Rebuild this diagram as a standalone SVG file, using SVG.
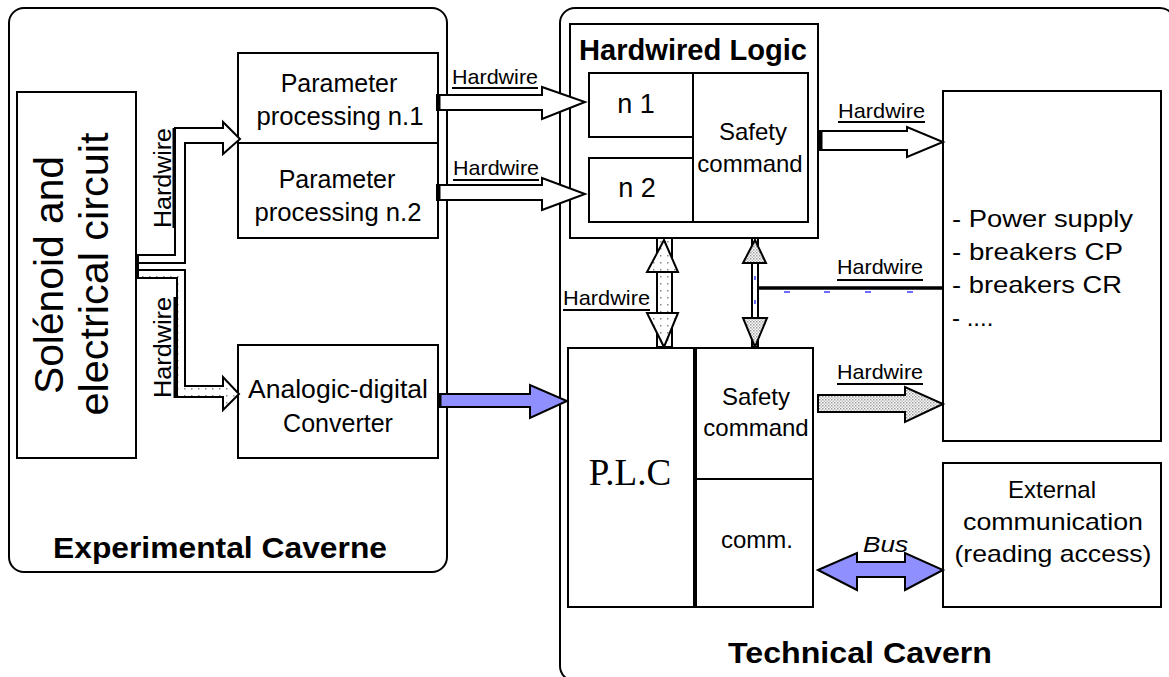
<svg xmlns="http://www.w3.org/2000/svg" width="1169" height="677" viewBox="0 0 1169 677">
<style>
.box{fill:#fff;stroke:#000;stroke-width:2}
.cont{fill:none;stroke:#000;stroke-width:2}
.t{font-family:"Liberation Sans",Arial,sans-serif;fill:#000;font-size:24px}
.c{text-anchor:middle}
.b{font-weight:bold;font-size:30px}
.hw{font-family:"Liberation Sans",Arial,sans-serif;font-size:21px;fill:#000}
.ul{stroke:#000;stroke-width:2}
.arr{fill:#fff;stroke:#000;stroke-width:2;stroke-linejoin:miter}
.blue{fill:#8f8fff;stroke:#000;stroke-width:2}
.dots{fill:url(#dots);stroke:#000;stroke-width:2}
.chk{fill:url(#chk);stroke:#000;stroke-width:2}
.tick{stroke:#6a6aff;stroke-width:2}
</style>
<defs>
<pattern id="dots" width="7" height="7" patternUnits="userSpaceOnUse">
<rect width="7" height="7" fill="#fff"/>
<rect x="2" y="3" width="1.5" height="1.5" fill="#888"/>
</pattern>
<pattern id="chk" width="3" height="3" patternUnits="userSpaceOnUse">
<rect width="3" height="3" fill="#fff"/>
<rect width="1.5" height="1.5" fill="#999"/>
<rect x="1.5" y="1.5" width="1.5" height="1.5" fill="#bbb"/>
</pattern>
</defs>
<rect width="1169" height="677" fill="#fff"/>

<g id="experimental-caverne">
<rect class="cont" x="9" y="8" width="438" height="564" rx="15"/>
<text class="t b" x="53" y="558" textLength="334" lengthAdjust="spacingAndGlyphs">Experimental Caverne</text>
</g>

<g id="technical-cavern">
<rect class="cont" x="560" y="8" width="615" height="673" rx="15"/>
<text class="t b" x="728" y="663" textLength="264" lengthAdjust="spacingAndGlyphs">Technical Cavern</text>
</g>

<g id="solenoid">
<rect class="box" x="17" y="92" width="119" height="366"/>
<text class="t c" style="font-size:40px" transform="translate(63,275) rotate(-90)" textLength="238" lengthAdjust="spacingAndGlyphs">Solénoid  and</text>
<text class="t c" style="font-size:40px" transform="translate(108,274) rotate(-90)" textLength="283" lengthAdjust="spacingAndGlyphs">electrical  circuit</text>
</g>

<g id="param-processing">
<rect class="box" x="238" y="53" width="200" height="185"/>
<line class="ul" x1="238" y1="143" x2="438" y2="143"/>
<text class="t c" style="font-size:25px" x="339" y="92">Parameter</text>
<text class="t c" style="font-size:25px" x="340" y="125" textLength="167" lengthAdjust="spacingAndGlyphs">processing n.1</text>
<text class="t c" style="font-size:25px" x="337" y="188">Parameter</text>
<text class="t c" style="font-size:25px" x="338" y="221" textLength="167" lengthAdjust="spacingAndGlyphs">processing n.2</text>
</g>

<g id="adc">
<rect class="box" x="238" y="345" width="200" height="113"/>
<text class="t c" style="font-size:25px" x="338" y="398" textLength="180" lengthAdjust="spacingAndGlyphs">Analogic-digital</text>
<text class="t c" style="font-size:25px" x="338" y="432">Converter</text>
</g>

<g id="hardwired-logic">
<rect class="box" x="570" y="24" width="248" height="214"/>
<text class="t b" style="font-size:29px" x="579" y="60" textLength="228" lengthAdjust="spacingAndGlyphs">Hardwired Logic</text>
<rect class="box" x="589" y="73" width="104" height="64"/>
<rect class="box" x="589" y="158" width="104" height="64"/>
<rect class="box" x="693" y="73" width="115" height="149"/>
<text class="t c" style="font-size:27px" x="636" y="113">n 1</text>
<text class="t c" style="font-size:27px" x="637" y="197">n 2</text>
<text class="t c" x="753" y="140">Safety</text>
<text class="t c" x="750" y="172">command</text>
</g>

<g id="plc">
<rect class="box" x="568" y="348" width="245" height="259"/>
<line x1="695" y1="348" x2="695" y2="607" stroke="#000" stroke-width="4"/>
<line class="ul" x1="695" y1="479" x2="813" y2="479"/>
<text x="630" y="485" style="font-family:'Liberation Serif','Times New Roman',serif;font-size:37px;text-anchor:middle">P.L.C</text>
<text class="t c" x="756" y="405">Safety</text>
<text class="t c" x="756" y="436">command</text>
<text class="t c" x="757" y="548">comm.</text>
</g>

<g id="power-box">
<rect class="box" x="943" y="91" width="218" height="350"/>
<text class="t" x="952" y="227" textLength="181" lengthAdjust="spacingAndGlyphs">- Power supply</text>
<text class="t" x="952" y="260" textLength="171" lengthAdjust="spacingAndGlyphs">- breakers CP</text>
<text class="t" x="952" y="293" textLength="170" lengthAdjust="spacingAndGlyphs">- breakers CR</text>
<text class="t" x="952" y="326">- ....</text>
</g>

<g id="external-comm">
<rect class="box" x="943" y="463" width="218" height="144"/>
<text class="t c" x="1052" y="498">External</text>
<text class="t c" x="1053" y="530" textLength="180" lengthAdjust="spacingAndGlyphs">communication</text>
<text class="t c" x="1053" y="562" textLength="197" lengthAdjust="spacingAndGlyphs">(reading access)</text>
</g>

<g id="connectors">
<!-- solenoid to param processing -->
<polygon class="arr" points="136,255 175,255 175,128 223,128 223,122 240,139 223,154 223,143 185,143 185,263 136,263"/>
<!-- solenoid to ADC -->
<polygon class="dots" points="136,270 185,270 185,386 223,386 223,377 239,394 223,410 223,397 177,397 177,278 136,278"/>
<line x1="137.5" y1="255" x2="137.5" y2="278" stroke="#000" stroke-width="3"/>
<text class="hw" transform="translate(171,228) rotate(-90)" style="font-size:23px" textLength="100" lengthAdjust="spacingAndGlyphs">Hardwire</text>
<line x1="174" y1="128" x2="174" y2="228" stroke="#000" stroke-width="3"/>
<text class="hw" transform="translate(171,398) rotate(-90)" style="font-size:23px" textLength="101" lengthAdjust="spacingAndGlyphs">Hardwire</text>
<line x1="175" y1="297" x2="175" y2="398" stroke="#000" stroke-width="3"/>

<!-- param 1 to n1 -->
<polygon class="arr" points="437,95 542,95 542,87 585,102 542,119 542,110 437,110"/>
<line x1="438.5" y1="95" x2="438.5" y2="110" stroke="#000" stroke-width="4"/>
<text class="hw" x="452" y="84" textLength="86" lengthAdjust="spacingAndGlyphs">Hardwire</text>
<line class="ul" x1="452" y1="88" x2="538" y2="88"/>
<!-- param 2 to n2 -->
<polygon class="arr" points="437,185 542,185 542,178 585,194 542,210 542,200 437,200"/>
<line x1="438.5" y1="185" x2="438.5" y2="200" stroke="#000" stroke-width="4"/>
<text class="hw" x="453" y="175" textLength="86" lengthAdjust="spacingAndGlyphs">Hardwire</text>
<line class="ul" x1="453" y1="180" x2="539" y2="180"/>

<!-- hardwired safety to power box -->
<polygon class="arr" points="819,131 907,131 907,127 943,142 907,157 907,150 819,150"/>
<line x1="820.5" y1="131" x2="820.5" y2="150" stroke="#000" stroke-width="4"/>
<text class="hw" x="838" y="118" textLength="87" lengthAdjust="spacingAndGlyphs">Hardwire</text>
<line class="ul" x1="838" y1="122" x2="925" y2="122"/>

<!-- ADC to PLC (blue) -->
<polygon class="blue" points="438,394 530,394 530,385 567,401 530,418 530,407 438,407"/>
<line x1="439.5" y1="394" x2="439.5" y2="407" stroke="#000" stroke-width="4"/>

<!-- hardwired logic <-> PLC (left) -->
<rect class="dots" x="657" y="238" width="15" height="109"/>
<polygon class="dots" points="664,240 678,272 647,272"/>
<polygon class="dots" points="647,313 678,313 664,347"/>
<text class="hw" x="563" y="305" textLength="87" lengthAdjust="spacingAndGlyphs">Hardwire</text>
<line class="ul" x1="563" y1="310" x2="650" y2="310"/>

<!-- hardwired logic <-> PLC (right) with branch to power box -->
<rect class="arr" x="752" y="238" width="6" height="109"/>
<polygon class="chk" points="755,240 766,263 743,263"/>
<polygon class="chk" points="743,318 767,318 755,347"/>
<line x1="758" y1="288" x2="943" y2="288" stroke="#000" stroke-width="3.5"/>
<text class="hw" x="837" y="274" textLength="86" lengthAdjust="spacingAndGlyphs">Hardwire</text>
<line class="ul" x1="837" y1="280" x2="923" y2="280"/>
<line class="tick" x1="784" y1="292" x2="790" y2="292"/>
<line class="tick" x1="824" y1="292" x2="830" y2="292"/>
<line class="tick" x1="865" y1="292" x2="871" y2="292"/>
<line class="tick" x1="907" y1="292" x2="913" y2="292"/>
<line class="tick" x1="755" y1="276" x2="755" y2="280"/>
<line class="tick" x1="755" y1="300" x2="755" y2="304"/>

<!-- PLC safety to power box -->
<polygon class="chk" points="818,395 905,395 905,387 943,404 905,422 905,412 818,412"/>
<text class="hw" x="837" y="379" textLength="86" lengthAdjust="spacingAndGlyphs">Hardwire</text>
<line class="ul" x1="837" y1="384" x2="923" y2="384"/>

<!-- Bus -->
<polygon class="blue" points="818,570 857,553 857,562 905,562 905,553 943,570 905,590 905,577 857,577 857,590"/>
<text class="hw" x="863" y="552" style="font-style:italic;font-size:22px" textLength="45" lengthAdjust="spacingAndGlyphs">Bus</text>
</g>
</svg>
